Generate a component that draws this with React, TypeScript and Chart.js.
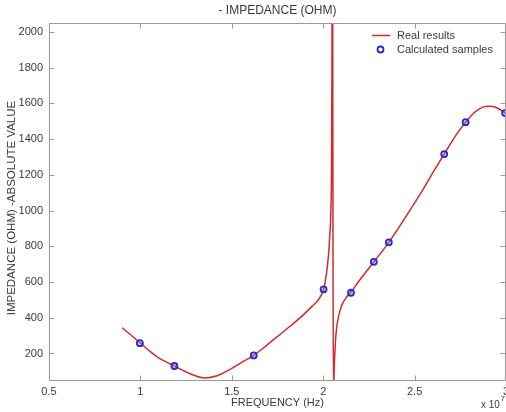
import React, { useEffect, useRef } from "react";
import { Chart, registerables } from "chart.js";

Chart.register(...registerables);

// Frequency in units of 1e7 Hz, impedance in ohm
const curveFreq = [
  0.9, 0.95, 1.0, 1.05, 1.1, 1.186, 1.269, 1.352, 1.42, 1.488, 1.55, 1.62, 1.69, 1.762, 1.83,
  1.89, 1.94, 1.972, 2.002, 2.018, 2.028, 2.036, 2.042, 2.046, 2.048, 2.049, 2.0505, 2.052,
  2.054, 2.056, 2.0615, 2.066, 2.072, 2.08, 2.092, 2.107, 2.125, 2.149, 2.2, 2.277, 2.359,
  2.456, 2.547, 2.6, 2.662, 2.7, 2.73, 2.76, 2.79, 2.82, 2.85, 2.875, 2.9, 2.93, 2.96, 2.995,
  3.0,
];
const curveImpedance = [
  344, 302, 258, 214, 175, 130, 88, 63, 75, 110, 148, 189, 245, 305, 362,
  415, 465, 499, 559, 649, 740, 860, 1000, 1300, 1900, 2400, 3000, 2000,
  600, 0, 150, 250, 330, 387, 440, 482, 512, 540, 611, 713, 822,
  972, 1120, 1212, 1316, 1380, 1428, 1470, 1508, 1542, 1566, 1579, 1584, 1582, 1570, 1546,
  1540,
];
const sampleFreq = [0.997, 1.186, 1.62, 2.002, 2.152, 2.277, 2.359, 2.662, 2.779, 2.995];
const sampleImpedance = [258, 130, 189, 559, 540, 713, 822, 1316, 1495, 1546];

const xTicks = [0.5, 1, 1.5, 2, 2.5, 3];
const yTicks = [200, 400, 600, 800, 1000, 1200, 1400, 1600, 1800, 2000];

const FONT = "'Liberation Sans', Arial, sans-serif";
const RED = "#d42a2a";
const BLUE = "#2a2ac8";
const TEXT = "#3a3a3a";

const decor = {
  id: "decor",
  afterDraw(chart: any) {
    const { ctx, chartArea: a, scales } = chart;
    const x = scales.x;
    const y = scales.y;
    ctx.save();
    // box
    ctx.strokeStyle = "#9a9a9a";
    ctx.lineWidth = 1;
    const L = Math.round(a.left) + 0.5;
    const R = Math.round(a.right) - 0.5;
    const T = Math.round(a.top) + 0.5;
    const B = Math.round(a.bottom) - 0.5;
    ctx.beginPath();
    ctx.moveTo(L, T);
    ctx.lineTo(R, T);
    ctx.lineTo(R, B);
    ctx.lineTo(L, B);
    ctx.closePath();
    ctx.stroke();
    // inward ticks
    ctx.beginPath();
    xTicks.forEach((v) => {
      const px = Math.round(x.getPixelForValue(v)) + 0.5;
      ctx.moveTo(px, B);
      ctx.lineTo(px, B - 5);
      ctx.moveTo(px, T);
      ctx.lineTo(px, T + 5);
    });
    yTicks.forEach((v) => {
      const py = Math.round(y.getPixelForValue(v)) + 0.5;
      ctx.moveTo(L, py);
      ctx.lineTo(L + 5, py);
      ctx.moveTo(R, py);
      ctx.lineTo(R - 5, py);
    });
    ctx.stroke();

    // title
    ctx.fillStyle = TEXT;
    ctx.textBaseline = "middle";
    ctx.textAlign = "center";
    ctx.font = `12px ${FONT}`;
    const cx = (a.left + a.right) / 2;
    ctx.fillText("- IMPEDANCE (OHM)", cx, 11);
    ctx.font = `11px ${FONT}`;
    ctx.fillText("FREQUENCY (Hz)", cx, 403);
    ctx.save();
    ctx.translate(12, (a.top + a.bottom) / 2 + 6);
    ctx.rotate(-Math.PI / 2);
    ctx.font = `11.5px ${FONT}`;
    ctx.fillText("IMPEDANCE (OHM) -ABSOLUTE VALUE", 0, 0);
    ctx.restore();
    // exponent
    ctx.textAlign = "left";
    ctx.font = `10px ${FONT}`;
    ctx.fillText("x 10", 481, 405);
    const w = ctx.measureText("x 10").width;
    ctx.font = `8px ${FONT}`;
    ctx.fillText("7", 481 + w + 0.5, 399);

    // legend
    ctx.font = `11px ${FONT}`;
    ctx.strokeStyle = RED;
    ctx.lineWidth = 1.5;
    ctx.beginPath();
    ctx.moveTo(372, 35.5);
    ctx.lineTo(390, 35.5);
    ctx.stroke();
    ctx.fillStyle = TEXT;
    ctx.fillText("Real results", 397, 36);
    ctx.strokeStyle = BLUE;
    ctx.lineWidth = 1.8;
    ctx.beginPath();
    ctx.arc(380.5, 49.5, 3, 0, Math.PI * 2);
    ctx.stroke();
    ctx.fillText("Calculated samples", 397, 50);
    ctx.restore();
  },
};

export default function App() {
  const ref = useRef<HTMLCanvasElement | null>(null);
  useEffect(() => {
    if (!ref.current) return;
    const chart = new Chart(ref.current, {
      type: "scatter",
      data: {
        datasets: [
          {
            label: "Calculated samples",
            data: sampleFreq.map((f, i) => ({ x: f, y: sampleImpedance[i] })),
            showLine: false,
            pointRadius: 3,
            pointBorderWidth: 1.8,
            pointBorderColor: BLUE,
            pointBackgroundColor: "rgba(120,120,230,0.35)",
          },
          {
            label: "Real results",
            data: curveFreq.map((f, i) => ({ x: f, y: curveImpedance[i] })),
            showLine: true,
            borderColor: RED,
            borderWidth: 1.5,
            pointRadius: 0,
            cubicInterpolationMode: "monotone",
          } as any,
        ],
      },
      options: {
        animation: false,
        responsive: false,
        devicePixelRatio: 1,
        layout: { padding: { top: 23, right: 24, left: 0, bottom: 0 } },
        plugins: { legend: { display: false }, tooltip: { enabled: false }, title: { display: false } },
        scales: {
          x: {
            type: "linear",
            min: 0.5,
            max: 3,
            grid: { display: false, drawTicks: false },
            border: { display: false },
            afterBuildTicks: (s: any) => {
              s.ticks = xTicks.map((v) => ({ value: v }));
            },
            afterFit: (s: any) => {
              s.height = 31;
            },
            ticks: {
              padding: 4,
              color: TEXT,
              font: { family: FONT, size: 11 },
              maxRotation: 0,
              autoSkip: false,
              callback: (v: any) => String(v),
            },
          },
          y: {
            type: "linear",
            min: 46,
            max: 2050,
            grid: { display: false, drawTicks: false },
            border: { display: false },
            afterBuildTicks: (s: any) => {
              s.ticks = yTicks.map((v) => ({ value: v }));
            },
            afterFit: (s: any) => {
              s.width = 49;
            },
            ticks: {
              padding: 6,
              color: TEXT,
              font: { family: FONT, size: 11 },
              autoSkip: false,
              callback: (v: any) => String(v),
            },
          },
        },
      },
      plugins: [decor],
    });
    return () => chart.destroy();
  }, []);
  return (
    <div
      style={{
        position: "fixed",
        left: 0,
        top: 0,
        width: 506,
        height: 412,
        overflow: "hidden",
        background: "#fff",
      }}
    >
      <canvas ref={ref} width={530} height={412} style={{ display: "block", width: 530, height: 412 }} />
    </div>
  );
}
